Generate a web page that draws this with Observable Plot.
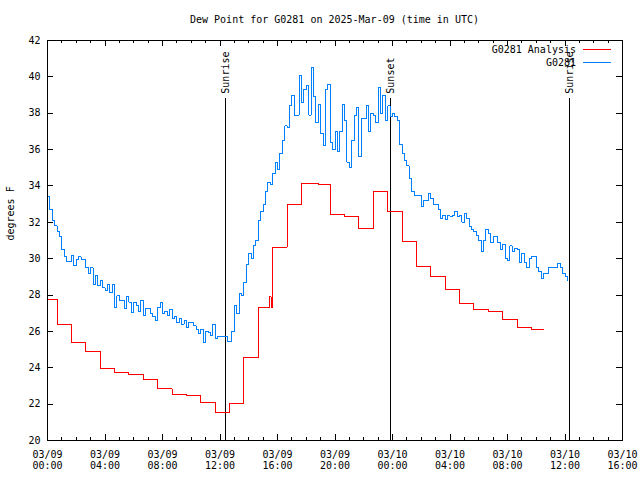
<!DOCTYPE html>
<html><head><meta charset="utf-8">
<script src="https://cdn.jsdelivr.net/npm/d3@7"></script>
<script src="https://cdn.jsdelivr.net/npm/@observablehq/plot@0.6"></script>
<style>
body{margin:0;background:#fff;}
#wrap{position:relative;width:640px;height:480px;font-family:"DejaVu Sans Mono",monospace;}
#title{position:absolute;top:15px;left:47px;width:575px;text-align:center;font-size:10px;line-height:10px;color:#000;z-index:2;}
#wrap svg{position:absolute;left:0;top:0;}
</style></head><body>
<div id="wrap"><div id="title">Dew Point for G0281 on 2025-Mar-09 (time in UTC)</div></div>
<script>
// ---- data ----
const seriesNames = ["G0281 Analysis", "G0281"];
const seriesColors = ["#ff0000", "#0080ff"];

const analysisTimes = [
  "2025-03-09T00:00Z","2025-03-09T00:40Z","2025-03-09T01:40Z","2025-03-09T02:40Z","2025-03-09T03:40Z",
  "2025-03-09T04:40Z","2025-03-09T05:40Z","2025-03-09T06:40Z","2025-03-09T07:40Z","2025-03-09T08:40Z",
  "2025-03-09T09:40Z","2025-03-09T10:40Z","2025-03-09T11:40Z","2025-03-09T12:40Z","2025-03-09T13:40Z",
  "2025-03-09T14:40Z","2025-03-09T15:28Z","2025-03-09T15:33Z","2025-03-09T15:40Z","2025-03-09T16:40Z",
  "2025-03-09T17:40Z","2025-03-09T18:50Z","2025-03-09T19:40Z","2025-03-09T20:40Z","2025-03-09T21:40Z",
  "2025-03-09T22:40Z","2025-03-09T23:40Z","2025-03-10T00:40Z","2025-03-10T01:40Z","2025-03-10T02:40Z",
  "2025-03-10T03:40Z","2025-03-10T04:40Z","2025-03-10T05:40Z","2025-03-10T06:40Z","2025-03-10T07:40Z",
  "2025-03-10T08:40Z","2025-03-10T09:40Z","2025-03-10T10:32Z"
];
const analysisValues = [
  27.75, 26.36, 25.37, 24.88, 23.94,
  23.72, 23.63, 23.34, 22.84, 22.51,
  22.48, 22.09, 21.54, 22.02, 24.56,
  27.30, 27.9, 27.3, 30.63, 32.96,
  34.15, 34.06, 32.43, 32.32, 31.64,
  33.68, 32.61, 30.93, 29.59, 29.02,
  28.31, 27.52, 27.21, 27.11, 26.66,
  26.23, 26.09, 26.09
];

const obsStart = "2025-03-09T00:00Z";
const obsStepMinutes = 10;
const obsValues = [
  33.4, 32.7, 32.1, 31.8, 31.5, 31.2,
  30.5, 30.1, 29.85, 29.85, 30.15, 29.6,
  29.95, 30.1, 29.95, 29.95, 29.5, 29.2,
  29.5, 28.6, 29.1, 28.5, 28.8, 28.4,
  28.25, 28.6, 28.15, 28.6, 27.3, 27.95,
  27.7, 27.7, 27.25, 27.9, 27.6, 27.05,
  27.6, 27.4, 27.1, 27.7, 26.9, 27.25,
  27.25, 27.0, 26.8, 26.6, 27.3, 27.6,
  27.0, 27.1, 26.9, 27.2, 26.7, 26.8,
  26.5, 26.7, 26.4, 26.6, 26.2, 26.5,
  26.5, 26.3, 26.1, 25.9, 26.1, 25.4,
  26.0, 25.95, 25.8, 26.4, 25.6, 25.7,
  25.7, 25.7, 25.7, 25.45, 25.45, 26.0,
  27.4, 27.0, 28.1, 28.0, 28.7, 29.7,
  30.3, 30.0, 30.7, 31.0, 32.1, 32.6,
  33.0, 33.7, 34.2, 34.1, 34.7, 35.3,
  34.9, 35.8, 36.5, 37.3, 37.2, 38.4,
  39.0, 37.9, 37.9, 40.1, 38.6, 39.3,
  39.5, 37.9, 40.5, 38.9, 37.5, 38.5,
  36.9, 36.2, 39.3, 39.6, 36.4, 36.0,
  37.0, 35.9, 37.0, 38.5, 37.6, 35.3,
  35.0, 36.5, 37.9, 38.3, 35.6, 37.7,
  37.7, 38.4, 37.0, 38.0, 37.9, 37.5,
  39.4, 38.0, 39.0, 37.6, 38.4, 37.8,
  38.0, 37.8, 37.6, 36.3, 35.8, 35.4,
  35.1, 34.4, 33.7, 33.5, 33.5, 33.5,
  32.85, 33.2, 33.2, 33.6, 33.3, 33.0,
  33.0, 32.7, 32.2, 32.4, 32.15, 32.35,
  32.3, 32.4, 32.6, 32.3, 32.4, 32.0,
  32.5, 32.2, 31.75, 31.6, 31.5, 31.3,
  31.0, 30.4, 31.0, 31.6, 31.4, 30.9,
  31.2, 31.2, 30.9, 30.5, 30.8, 30.0,
  29.9, 30.7, 30.4, 30.55, 30.5, 29.8,
  30.3, 29.8, 29.5, 30.0, 30.1, 30.1,
  29.5, 29.3, 28.9, 29.2, 29.2, 29.5,
  29.5, 29.5, 29.5, 29.75, 29.5, 29.2,
  29.0, 28.8
];

const sunLabels = ["Sunrise", "Sunset", "Sunrise"];
const sunTimes = ["2025-03-09T12:25Z", "2025-03-09T23:52Z", "2025-03-10T12:20Z"];

const xDomainStrings = ["2025-03-09T00:00Z", "2025-03-10T16:00Z"];
const xTickTimes = [
  "2025-03-09T00:00Z","2025-03-09T04:00Z","2025-03-09T08:00Z","2025-03-09T12:00Z",
  "2025-03-09T16:00Z","2025-03-09T20:00Z","2025-03-10T00:00Z","2025-03-10T04:00Z",
  "2025-03-10T08:00Z","2025-03-10T12:00Z","2025-03-10T16:00Z"
];
const xTickLabels = [
  "03/09\n00:00","03/09\n04:00","03/09\n08:00","03/09\n12:00","03/09\n16:00","03/09\n20:00",
  "03/10\n00:00","03/10\n04:00","03/10\n08:00","03/10\n12:00","03/10\n16:00"
];
const yTicks = [20, 22, 24, 26, 28, 30, 32, 34, 36, 38, 40, 42];
const yTickLabels = ["20","22","24","26","28","30","32","34","36","38","40","42"];
const yLabel = "degrees F";

// ---- build ----
const analysis = analysisTimes.map((t, i) => ({time: new Date(t), value: analysisValues[i]}));
const t0 = Date.parse(obsStart);
const obs = obsValues.map((v, i) => ({time: new Date(t0 + i * obsStepMinutes * 60000), value: v}));
const sun = sunTimes.map((t, i) => ({time: new Date(t), label: sunLabels[i]}));
const xDomain = xDomainStrings.map(s => new Date(s));
const majorTicks = xTickTimes.map(s => new Date(s));
const minorTicks = d3.utcHour.range(xDomain[0], new Date(+xDomain[1] + 1));

const W = 640, H = 480, mt = 40, mb = 40, ml = 47, mr = 18;
const frameH = H - mt - mb, frameW = W - ml - mr;
const font = "DejaVu Sans Mono, monospace";
const sunTop = 38.8;

const chart = Plot.plot({
  width: W, height: H,
  marginTop: mt, marginBottom: mb, marginLeft: ml, marginRight: mr,
  style: {fontFamily: font, fontSize: "10px", background: "white", color: "black"},
  x: {type: "utc", domain: xDomain, axis: null},
  y: {domain: [20, 42], axis: null},
  marks: [
    Plot.ruleX(sun, {x: "time", y1: 20, y2: sunTop, stroke: "black", strokeWidth: 1, shapeRendering: "crispEdges"}),
    Plot.text(sun, {x: "time", y: sunTop, text: "label", rotate: -90, textAnchor: "start", lineAnchor: "middle", dy: -5, fill: "black"}),
    Plot.line(analysis, {x: "time", y: "value", curve: "step-after", stroke: seriesColors[0], strokeWidth: 1, shapeRendering: "crispEdges"}),
    Plot.line(obs, {x: "time", y: "value", curve: "step-after", stroke: seriesColors[1], strokeWidth: 1, shapeRendering: "crispEdges"}),
    Plot.tickX(minorTicks, {x: d => d, insetTop: frameH - 3, stroke: "black", shapeRendering: "crispEdges"}),
    Plot.tickX(minorTicks, {x: d => d, insetBottom: frameH - 3, stroke: "black", shapeRendering: "crispEdges"}),
    Plot.tickX(majorTicks, {x: d => d, insetTop: frameH - 6, stroke: "black", shapeRendering: "crispEdges"}),
    Plot.tickX(majorTicks, {x: d => d, insetBottom: frameH - 6, stroke: "black", shapeRendering: "crispEdges"}),
    Plot.tickY(yTicks, {y: d => d, insetRight: frameW - 6, stroke: "black", shapeRendering: "crispEdges"}),
    Plot.tickY(yTicks, {y: d => d, insetLeft: frameW - 6, stroke: "black", shapeRendering: "crispEdges"}),
    Plot.text(majorTicks, {x: d => d, text: (d, i) => xTickLabels[i], frameAnchor: "bottom", lineAnchor: "top", dy: 9, lineHeight: 1.15, fill: "black"}),
    Plot.text(yTicks, {y: d => d, text: (d, i) => yTickLabels[i], frameAnchor: "left", textAnchor: "end", dx: -7, fill: "black"}),
    Plot.text([yLabel], {frameAnchor: "left", rotate: -90, dx: -37, fill: "black"}),
    Plot.frame({stroke: "black", strokeWidth: 1, shapeRendering: "crispEdges"})
  ]
});

// legend (top-right inside the frame)
const svg = d3.select(chart);
const leg = svg.append("g").attr("font-family", font).attr("font-size", 10);
seriesNames.forEach((name, i) => {
  const y = 49 + i * 13;
  leg.append("text").attr("x", 576).attr("y", y).attr("text-anchor", "end")
     .attr("dominant-baseline", "central").attr("fill", "black").text(name);
  leg.append("line").attr("x1", 583).attr("x2", 611).attr("y1", y + 0.5).attr("y2", y + 0.5)
     .attr("stroke", seriesColors[i]).attr("stroke-width", 1).attr("shape-rendering", "crispEdges");
});

document.getElementById("wrap").appendChild(chart);
</script>
</body></html>
